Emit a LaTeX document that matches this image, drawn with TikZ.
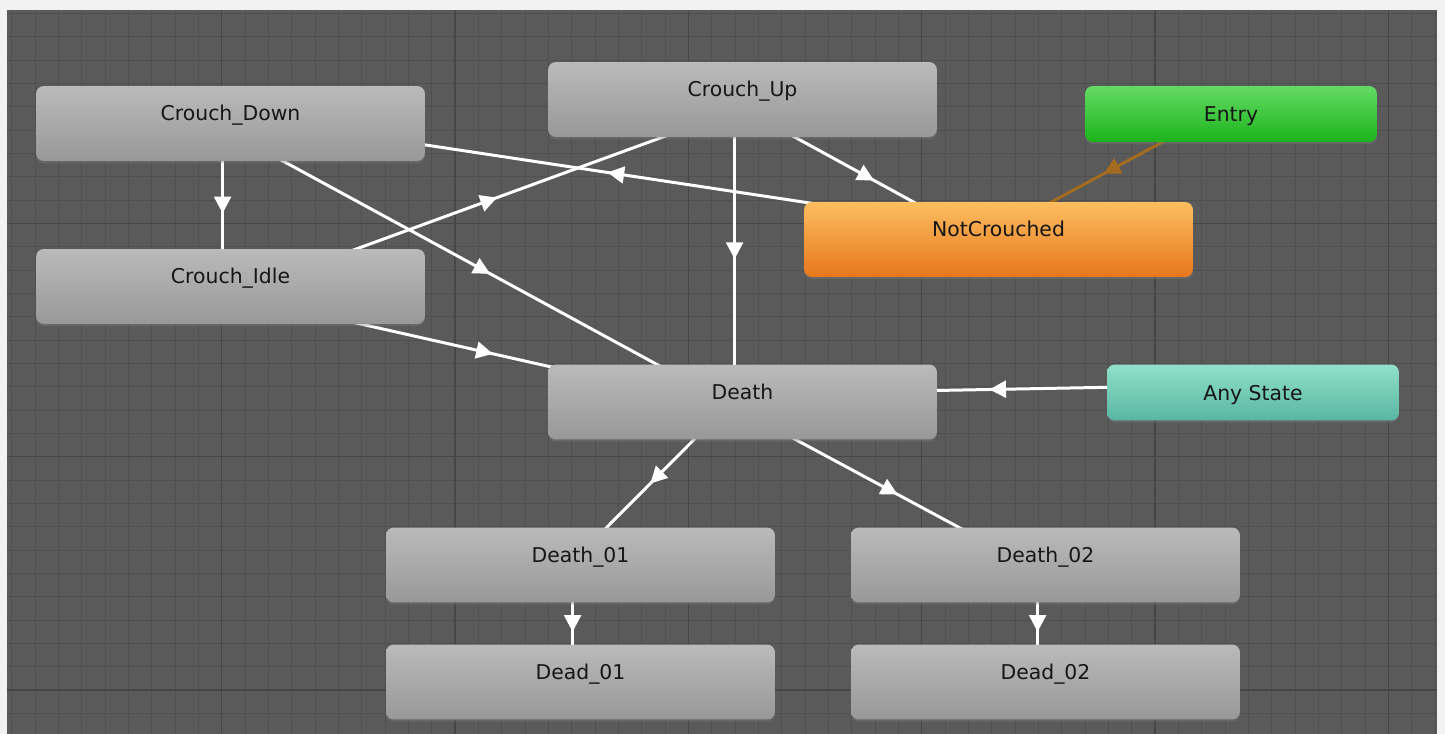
\documentclass[tikz,border=0pt]{standalone}
\usepackage{fontspec}
\newfontfamily\statefont{DejaVu Sans}
\usetikzlibrary{arrows.meta,calc,decorations.markings,shadows}

\definecolor{paper}{RGB}{242,242,242}
\definecolor{canvas}{RGB}{90,90,90}
\definecolor{minorgrid}{RGB}{80,80,80}
\definecolor{majorgrid}{RGB}{70,70,70}
\definecolor{stateTop}{RGB}{186,186,186}
\definecolor{stateBot}{RGB}{152,152,152}
\definecolor{stateText}{RGB}{22,22,22}
\definecolor{orangeTop}{RGB}{252,190,96}
\definecolor{orangeBot}{RGB}{232,118,28}
\definecolor{greenTop}{RGB}{100,218,100}
\definecolor{greenBot}{RGB}{28,180,28}
\definecolor{tealTop}{RGB}{144,224,202}
\definecolor{tealBot}{RGB}{88,182,162}
\definecolor{entryline}{RGB}{164,108,32}

\pgfdeclarelayer{grid}
\pgfdeclarelayer{links}
\pgfsetlayers{grid,links,main}

\tikzset{
  state/.style={rounded corners=4.5pt, minimum width=7.78cm, inner xsep=0pt, inner ysep=0pt,
    text height=0.69cm, text depth=0.81cm, top color=stateTop, bottom color=stateBot,
    text=stateText, font=\statefont\fontsize{11.6}{14}\selectfont,
    drop shadow={shadow xshift=0pt, shadow yshift=-1.2pt, opacity=0.35}},
  small state/.style={state, minimum width=5.84cm, text height=0.71cm, text depth=0.41cm},
  default state/.style={top color=orangeTop, bottom color=orangeBot},
  entry state/.style={top color=greenTop, bottom color=greenBot},
  any state/.style={top color=tealTop, bottom color=tealBot},
  minor/.style={draw=minorgrid, line width=0.55pt},
  major/.style={draw=majorgrid, line width=0.7pt},
  trans/.style={color=#1, line width=1.7pt, postaction={decorate},
    decoration={markings, mark=at position 0.5 with {\arrow[xshift=4.75pt]{Triangle[length=9.5pt,width=9.5pt]}}}},
  trans/.default=white
}

% transition drawn centre to centre, shifted to one side, under the states
\newcommand{\transline}[3][white]{%
  \draw[trans=#1] ($(#2.center)!4.5pt!-90:(#3.center)$) -- ($(#3.center)!4.5pt!90:(#2.center)$);}

\begin{document}
\begin{tikzpicture}[x=0.02cm, y=-0.02cm]
  \useasboundingbox (0,0) rectangle (1445,734);

  % grid background
  \begin{pgfonlayer}{grid}
    \fill[paper] (0,0) rectangle (1445,734);
    \fill[canvas] (7,10) rectangle (1437,734);
    \begin{scope}
      \clip (7,10) rectangle (1437,734);
      \foreach \i in {0,...,61} \draw[minor] ({11.7+23.333*\i},10) -- ++(0,724);
      \foreach \i in {0,...,31} \draw[minor] (7,{13.4+23.333*\i}) -- ++(1430,0);
      \foreach \i in {0,...,6} \draw[major] ({-11.6+233.33*\i},10) -- ++(0,724);
      \foreach \i in {0,...,3} \draw[major] (7,{-10+233.33*\i}) -- ++(1430,0);
    \end{scope}
  \end{pgfonlayer}

  % states
  \node[state] (cdown) at (230.5,123.5) {Crouch\_Down};
  \node[state] (cup) at (742.5,99.5) {Crouch\_Up};
  \node[small state, entry state] (entry) at (1231,114) {Entry};
  \node[state, default state] (notc) at (998.5,239.5) {NotCrouched};
  \node[state] (cidle) at (230.5,286.5) {Crouch\_Idle};
  \node[state] (death) at (742.5,402) {Death};
  \node[small state, any state] (anys) at (1253,392.5) {Any State};
  \node[state] (d01) at (580.5,565) {Death\_01};
  \node[state] (d02) at (1045.5,565) {Death\_02};
  \node[state] (dead01) at (580.5,682) {Dead\_01};
  \node[state] (dead02) at (1045.5,682) {Dead\_02};

  % transitions
  \begin{pgfonlayer}{links}
    \transline{cdown}{cidle}
    \transline{notc}{cdown}
    \transline{cidle}{cup}
    \transline{cdown}{death}
    \transline{cup}{death}
    \transline{cup}{notc}
    \transline[entryline]{entry}{notc}
    \transline{cidle}{death}
    \transline{anys}{death}
    \transline{death}{d01}
    \transline{death}{d02}
    \transline{d01}{dead01}
    \transline{d02}{dead02}
  \end{pgfonlayer}
\end{tikzpicture}
\end{document}
